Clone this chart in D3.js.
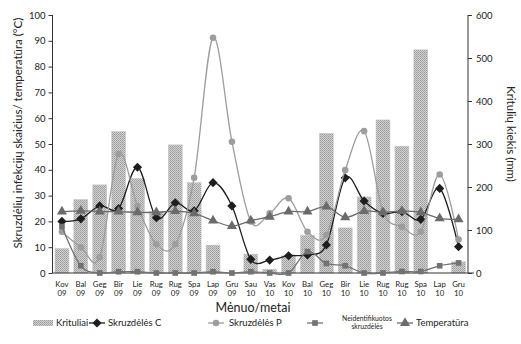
<!DOCTYPE html>
<html><head><meta charset="utf-8">
<script src="https://cdn.jsdelivr.net/npm/d3@7"></script>
<style>body{margin:0;background:#fff}svg{display:block}text{font-family:Lato,"Open Sans",sans-serif;fill:#222}</style>
</head><body><svg id="c" width="521" height="344"></svg>
<script>
const months = ["Kov","Bal","Geg","Bir","Lie","Rug","Rug","Spa","Lap","Gru","Sau","Vas","Kov","Bal","Geg","Bir","Lie","Rug","Rug","Spa","Lap","Gru"];
const years = ["09","09","09","09","09","09","09","09","09","09","10","10","10","10","10","10","10","10","10","10","10","10"];
const krituliai = [57,171,205,329,220,143,298,210,65,0,44,9,40,88,325,105,177,356,295,519,0,26];
const skruzdelesC = [20,21,26,25,41,21.4,27.2,24.1,35,26,5.3,5,6.7,7,10.9,36.9,27.9,23.1,23.8,20.8,32.8,10.2];
const skruzdelesP = [16,10,6.1,46.1,26,11.1,11.1,36.9,91.2,50.9,20,23.1,29,16,14.7,39.9,55,23.8,17.9,16,38.2,13];
const neidentifikuotos = [18,2.8,0,0.5,0.5,0,0,0,0.5,0,0.5,0,0,8.3,3.7,2.8,0,0,0.6,0.6,2.8,3.9];
const temperatura = [23.8,24.1,23.8,23.8,23.5,23.5,24,23.1,20.3,18.2,20.3,21.8,23.8,23.8,25.7,21.6,24,23.5,24,23.5,21.2,20.8];
const leftTicks = [0,10,20,30,40,50,60,70,80,90,100];
const rightTicks = [0,100,200,300,400,500,600];

const svg = d3.select("#c");
const L = 52.5, R = 468, T = 15, B = 273;
const idx = d3.range(months.length);
const x = d3.scaleBand().domain(idx).range([L, R]).paddingInner(0.26).paddingOuter(0.13);
const yL = d3.scaleLinear().domain([0,100]).range([B,T]);
const yR = d3.scaleLinear().domain([0,600]).range([B,T]);
const cx = i => x(i) + x.bandwidth()/2;

const defs = svg.append("defs");
const pat = defs.append("pattern").attr("id","dots").attr("width",2).attr("height",2).attr("patternUnits","userSpaceOnUse");
pat.append("rect").attr("width",2).attr("height",2).attr("fill","#d2d2d2");
pat.append("rect").attr("width",1).attr("height",1).attr("fill","#9a9a9a");
pat.append("rect").attr("x",1).attr("y",1).attr("width",1).attr("height",1).attr("fill","#a8a8a8");

svg.append("g").selectAll("rect").data(krituliai).join("rect")
  .attr("x",(d,i)=>x(i)).attr("width",x.bandwidth())
  .attr("y",d=>yR(d)).attr("height",d=>B-yR(d))
  .attr("fill","url(#dots)").attr("stroke","#c8c8c8").attr("stroke-width",0.5);

const gl = svg.append("g").attr("transform",`translate(${L},0)`)
  .call(d3.axisLeft(yL).tickValues(leftTicks).tickSize(4).tickPadding(3));
const gr = svg.append("g").attr("transform",`translate(${R},0)`)
  .call(d3.axisRight(yR).tickValues(rightTicks).tickSize(4).tickPadding(4));
[gl,gr].forEach(g=>{
  g.select(".domain").attr("stroke","#333").attr("d", `M0,${T}V${B}`);
  g.selectAll(".tick line").attr("stroke","#333");
  g.selectAll(".tick text").attr("font-size",9.5).attr("fill","#333").style("font-family","Lato");
});
svg.append("line").attr("x1",L).attr("x2",R+6).attr("y1",B).attr("y2",B).attr("stroke","#333");

const gx = svg.append("g").attr("transform",`translate(0,${B})`)
  .call(d3.axisBottom(x).tickSize(0).tickFormat(""));
gx.select(".domain").remove();
const xl = svg.append("g");
idx.forEach(i=>{
  const t = xl.append("text").attr("x",cx(i)).attr("text-anchor","middle").attr("font-size",7.8).attr("fill","#333");
  t.append("tspan").attr("x",cx(i)).attr("y",287).text(months[i]);
  t.append("tspan").attr("x",cx(i)).attr("y",296).text(years[i]);
});

const curve = d3.curveCardinal.tension(0);
const series = [
  {data:skruzdelesC, color:"#1e1e1e", marker:"diamond", size:42},
  {data:skruzdelesP, color:"#9d9d9d", marker:"circle", size:34},
  {data:neidentifikuotos, color:"#727272", marker:"square", size:32},
  {data:temperatura, color:"#6b6b6b", marker:"triangle", size:44}
];
const sym = {circle:d3.symbolCircle, square:d3.symbolSquare, triangle:d3.symbolTriangle};
function marker(g, s, px, py){
  if(s.marker==="diamond"){
    g.append("path").attr("d", d3.symbol(d3.symbolSquare, s.size)()).attr("transform",`translate(${px},${py}) rotate(45)`).attr("fill",s.color);
  } else {
    g.append("path").attr("d", d3.symbol(sym[s.marker], s.size)()).attr("transform",`translate(${px},${py})`).attr("fill",s.color);
  }
}
series.forEach(s=>{
  const g = svg.append("g");
  g.append("path").datum(s.data).attr("fill","none").attr("stroke",s.color).attr("stroke-width",1.3)
    .attr("d", d3.line().x((d,i)=>cx(i)).y(d=>yL(d)).curve(curve));
  s.data.forEach((d,i)=>marker(g,s,cx(i),yL(d)));
});

svg.append("text").attr("transform","translate(22,133) rotate(-90)").attr("text-anchor","middle")
  .attr("font-size",11.5).text("Skruzdėlių infekcijų skaičius/ temperatūra (°C)");
svg.append("text").attr("transform","translate(507,134) rotate(90)").attr("text-anchor","middle")
  .attr("font-size",11.5).text("Kritulių kiekis (mm)");
svg.append("text").attr("x",253).attr("y",312).attr("text-anchor","middle").attr("font-size",12.5).text("Mėnuo/metai");

const lg = svg.append("g");
const ly = 323;
lg.append("rect").attr("x",33).attr("y",ly-3).attr("width",20).attr("height",6).attr("fill","url(#dots)");
lg.append("text").attr("x",56).attr("y",ly+3.3).attr("font-size",9.5).text("Krituliai");
const legItems = [
  {s:series[0], x0:89, tx:108, label:"Skruzdėlės C"},
  {s:series[1], x0:208, tx:229, label:"Skruzdėlės P"},
  {s:series[2], x0:307, tx:null, label:""},
  {s:series[3], x0:397, tx:416, label:"Temperatūra"}
];
legItems.forEach(it=>{
  lg.append("line").attr("x1",it.x0).attr("x2",it.x0+16).attr("y1",ly).attr("y2",ly).attr("stroke",it.s.color).attr("stroke-width",1.3);
  marker(lg,it.s,it.x0+8,ly);
  if(it.tx) lg.append("text").attr("x",it.tx).attr("y",ly+3.3).attr("font-size",9.5).text(it.label);
});
const nt = lg.append("text").attr("text-anchor","middle").attr("font-size",6.8);
nt.append("tspan").attr("x",367).attr("y",ly-2.5).text("Neidentifikuotos");
nt.append("tspan").attr("x",367).attr("y",ly+6).text("skruzdėlės");
</script></body></html>
